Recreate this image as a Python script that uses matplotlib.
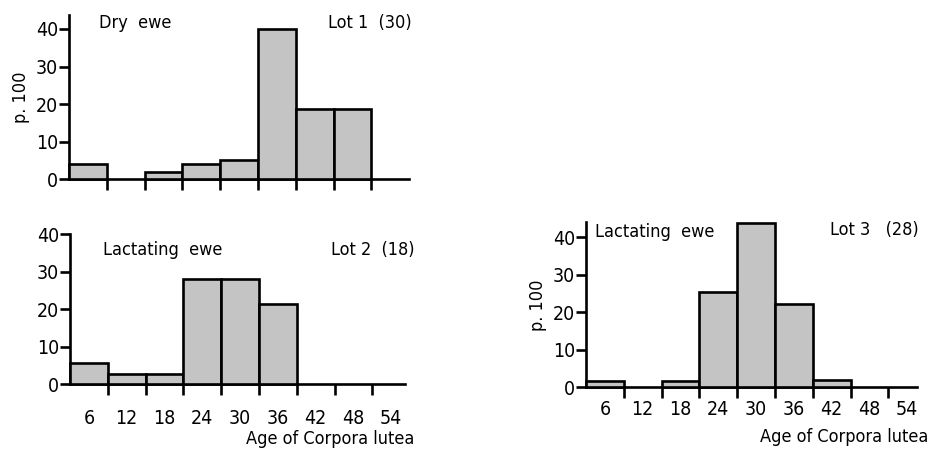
import matplotlib
matplotlib.use("Agg")
import matplotlib.pyplot as plt
import numpy as np

plt.rcParams['font.family'] = ['DejaVu Sans']
plt.rcParams['font.stretch'] = 'condensed'

# bin centres (age of corpora lutea) and percentages per lot
ages = [6, 12, 18, 24, 30, 36, 42, 48, 54]
lot1_dry = [4.0, 0, 2.0, 4.0, 5.2, 40.0, 18.7, 18.7, 0]
lot2_lact = [5.6, 2.8, 2.8, 28.0, 28.0, 21.5, 0, 0, 0]
lot3_lact = [1.8, 0, 1.8, 25.3, 43.7, 22.1, 2.0, 0, 0]
y_ticks = [0, 10, 20, 30, 40]
edge_ticks = [9, 15, 21, 27, 33, 39, 45, 51]

W, H = 937, 458
PX_X = 6.3    # pixels per age unit
PX_Y = 3.75   # pixels per percent
FS = 13
TFS = 14
LW = 1.9


def add_panel(fig, left_px, base_px, xmax, ymax):
    width = (xmax - 3) * PX_X
    height = ymax * PX_Y
    rect = [left_px / W, 1 - base_px / H, width / W, height / H]
    ax = fig.add_axes(rect)
    ax.set_xlim(3, xmax)
    ax.set_ylim(0, ymax)
    ax.patch.set_alpha(0)
    for side in ("top", "right"):
        ax.spines[side].set_visible(False)
    for side in ("left", "bottom"):
        ax.spines[side].set_linewidth(LW)
        ax.spines[side].set_capstyle("projecting")
    ax.set_yticks(y_ticks)
    ax.set_yticklabels([str(v) for v in y_ticks])
    ax.tick_params(axis="y", direction="out", length=7, width=LW,
                   labelsize=TFS, pad=1)
    ax.set_xticks(edge_ticks)
    ax.set_xticklabels([])
    ax.tick_params(axis="x", which="major", direction="out", length=8,
                   width=LW)
    return ax


def draw_bars(ax, values):
    vals = np.array(values)
    keep = vals > 0
    ax.bar(np.array(ages)[keep], vals[keep], width=6, color="#c4c4c4",
           edgecolor="black", linewidth=LW, zorder=3, clip_on=False)


def age_labels(ax, pad):
    ax.set_xticks(ages, minor=True)
    ax.set_xticklabels([str(a) for a in ages], minor=True)
    ax.tick_params(axis="x", which="minor", length=0, labelsize=TFS, pad=pad)


fig = plt.figure(figsize=(W / 100, H / 100), dpi=100)

# ---- Lot 1: dry ewe ----
ax1 = add_panel(fig, 69, 179, 57, 43.7)
draw_bars(ax1, lot1_dry)
ax1.set_ylabel("p. 100", fontsize=FS, labelpad=4)
fig.text(99 / W, 1 - 23 / H, "Dry  ewe", fontsize=FS, va="center")
fig.text(412 / W, 1 - 23 / H, "Lot 1  (30)", fontsize=FS, va="center",
         ha="right")

# ---- Lot 2: lactating ewe ----
ax2 = add_panel(fig, 70, 384.3, 56.2, 40)
draw_bars(ax2, lot2_lact)
age_labels(ax2, 18)
fig.text(103 / W, 1 - 250 / H, "Lactating  ewe", fontsize=FS, va="center")
fig.text(415 / W, 1 - 250 / H, "Lot 2  (18)", fontsize=FS, va="center",
         ha="right")
fig.text(414 / W, 1 - 439 / H, "Age of Corpora lutea", fontsize=FS,
         va="center", ha="right")

# ---- Lot 3: lactating ewe ----
ax3 = add_panel(fig, 586, 387.3, 55.6, 44)
draw_bars(ax3, lot3_lact)
age_labels(ax3, 9)
ax3.set_ylabel("p. 100", fontsize=FS, labelpad=4)
fig.text(595 / W, 1 - 232 / H, "Lactating  ewe", fontsize=FS, va="center")
fig.text(919 / W, 1 - 230 / H, "Lot 3   (28)", fontsize=FS, va="center",
         ha="right")
fig.text(928 / W, 1 - 437 / H, "Age of Corpora lutea", fontsize=FS,
         va="center", ha="right")

fig.savefig("out.png", dpi=100)
